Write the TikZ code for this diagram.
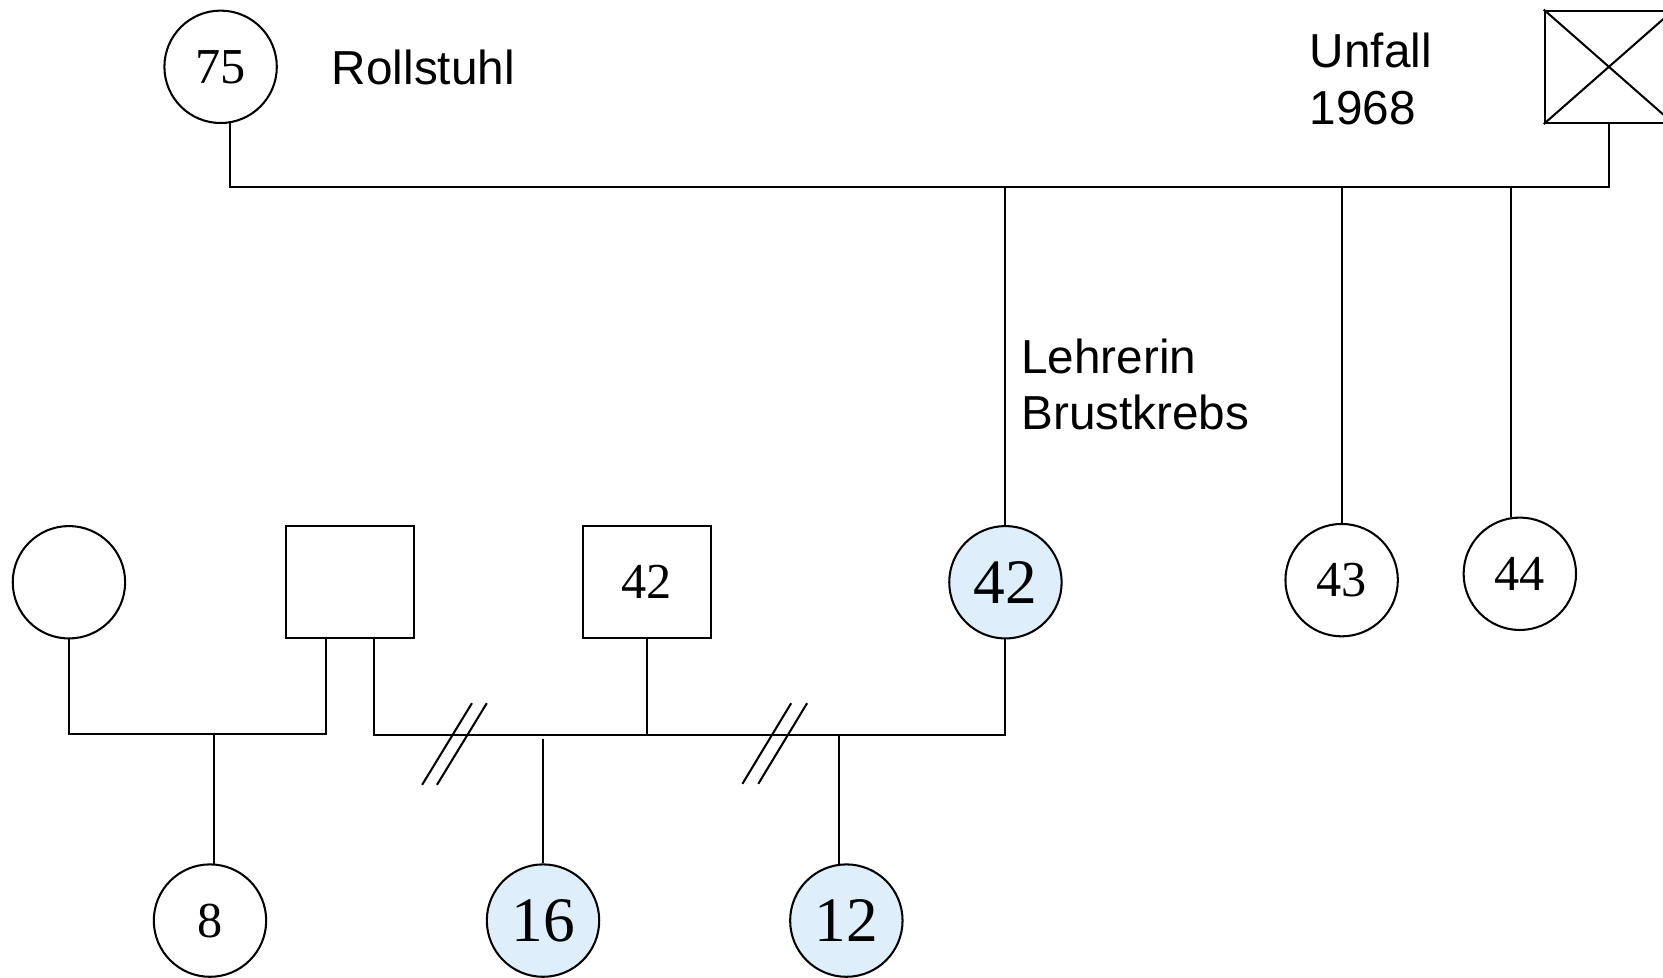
\documentclass[tikz,border=0pt]{standalone}
\usepackage{fontspec}
\setmainfont{Liberation Serif}
\newfontfamily\labelfont{Liberation Sans}
\definecolor{affblue}{RGB}{222,238,250}
\begin{document}
\begin{tikzpicture}[x=0.02cm, y=-0.02cm, line width=1.1pt,
  person/.style={draw, circle, inner sep=0pt, minimum size=2.12cm,
    font=\fontsize{27}{32}\selectfont},
  male/.style={draw, rectangle, inner sep=0pt, minimum width=2.42cm,
    minimum height=2.12cm, font=\fontsize{27}{32}\selectfont},
  affected/.style={fill=affblue, font=\fontsize{34}{40}\selectfont},
  note/.style={anchor=base west, inner sep=0pt, align=left,
    font=\labelfont\fontsize{25.6}{30.2}\selectfont},
  separated/.style={line width=1.1pt}]
\useasboundingbox (0,0) rectangle (1568,922);
\clip (0,0) rectangle (1568,922);

% grandparents
\node[person] (c75) at (208,63) {75};
\node[male] (xbox) at (1517,63) {};
\draw (xbox.north west) -- (xbox.south east)
      (xbox.south west) -- (xbox.north east);
\node[note] (rollstuhl) at (312,80) {Rollstuhl};
% multi-line notes are placed by the baseline of their last line
\node[note] (unfall) at (1234,117) {Unfall\\1968};

% children of the grandparents
\node[person, affected] (c42) at (948,549) {42};
\node[person] (c43) at (1265,547) {43};
\node[person] (c44) at (1433,541) {44};
\node[note] (lehrerin) at (962,405) {Lehrerin\\Brustkrebs};

\coordinate (mline) at (0,176);
\draw (c75.-81) -- (c75.-81 |- mline) -- (xbox.south |- mline) -- (xbox.south);
\draw (c42.north) -- (c42.north |- mline);
\draw (c43.north) -- (c43.north |- mline);
\draw (c44.99) -- (c44.99 |- mline);

% lower generation
\node[person] (cw) at (65,549) {};
\node[male] (sq) at (330,549) {};
\node[male] (sq42) at (610,549) {42};
\node[person] (c8) at (198,868) {8};
\node[person, affected] (c16) at (512,868) {16};
\node[person, affected] (c12) at (798,868) {12};

\coordinate (mlowa) at (0,692);
\coordinate (mlowb) at (0,693);
\coordinate (j42) at (sq42.south |- mlowb);

% first couple and their child
\draw (cw.south) |- ([xshift=-23*0.569pt]sq.south |- mlowa) -- ([xshift=-23*0.569pt]sq.south);
\draw (c8.86) -- (c8.86 |- mlowa);

% separated unions
\draw ([xshift=23*0.569pt]sq.south) |- (j42) -| (c42.south);
\draw (sq42.south) -- (j42);
\draw (c16.north) -- ([yshift=-4*0.569pt]c16.north |- mlowb);
\draw (c12.97) -- (c12.97 |- mlowb);

% separation marks
\draw[separated] (398,740) -- (445,663) (412,740) -- (459,663);
\draw[separated] (700,739) -- (746,663) (715,739) -- (761,663);
\end{tikzpicture}
\end{document}
